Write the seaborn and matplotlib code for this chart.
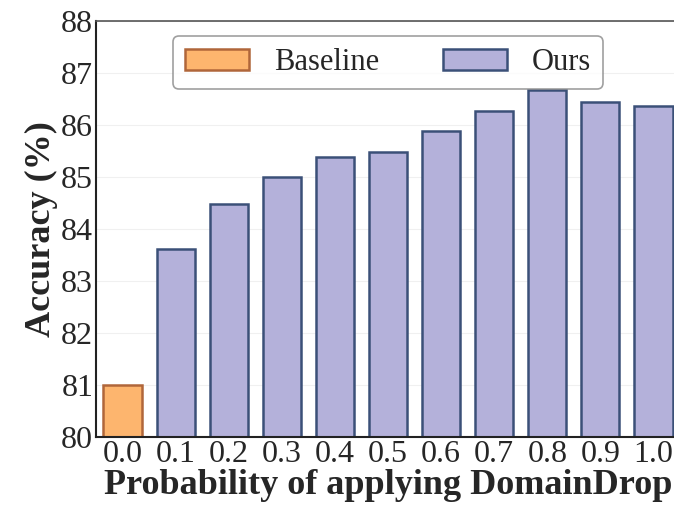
import numpy as np
import pandas as pd
import matplotlib
matplotlib.use("Agg")
import matplotlib.pyplot as plt
import seaborn as sns
from matplotlib.patches import Patch

# values
probs = ["0.0", "0.1", "0.2", "0.3", "0.4", "0.5", "0.6", "0.7", "0.8", "0.9", "1.0"]
accuracy = [81.0, 83.62, 84.48, 85.0, 85.38, 85.48, 85.88, 86.27, 86.67, 86.44, 86.37]
groups = ["Baseline"] + ["Ours"] * 10

fill_colors = {"Baseline": "#fdb56e", "Ours": "#b4b1da"}
edge_colors = {"Baseline": "#b0663a", "Ours": "#3b5078"}

sns.set_style("whitegrid")
plt.rcParams["font.family"] = ["Liberation Serif", "DejaVu Serif"]
plt.rcParams["grid.color"] = "#f0f0f0"

df = pd.DataFrame({"p": probs, "acc": accuracy, "group": groups})

fig = plt.figure(figsize=(6.74, 5.08), dpi=100)
ax = fig.add_axes([96 / 674, (508 - 437) / 508, (680 - 96) / 674, (437 - 21) / 508])

sns.barplot(data=df, x="p", y="acc", hue="group", palette=fill_colors, saturation=1,
            dodge=False, width=0.72, ax=ax, legend=False)

# bars are drawn in hue order, so match each to its group by x position
for bar in ax.patches:
    idx = int(round(bar.get_x() + bar.get_width() / 2))
    if idx < 0 or idx >= len(groups):
        continue
    bar.set_edgecolor(edge_colors[groups[idx]])
    bar.set_linewidth(1.8)

ax.set_ylim(80, 88)
ax.set_xlim(-0.5, 10.5)
ax.set_yticks(range(80, 89))
ax.set_xlabel("Probability of applying DomainDrop", fontsize=26, fontweight="bold", labelpad=0)
ax.set_ylabel("Accuracy (%)", fontsize=26, fontweight="bold", labelpad=2)
ax.tick_params(axis="both", labelsize=23, length=0, pad=2)
ax.grid(axis="x", visible=False)

for side in ["left", "bottom"]:
    ax.spines[side].set_color("#222222")
    ax.spines[side].set_linewidth(1.5)
ax.spines["top"].set_color("#555555")
ax.spines["top"].set_linewidth(1.2)
ax.spines["right"].set_visible(False)

handles = [Patch(facecolor=fill_colors[g], edgecolor=edge_colors[g], linewidth=1.8, label=g)
           for g in ["Baseline", "Ours"]]
leg = ax.legend(handles=handles, ncol=2, loc="upper left",
                bbox_to_anchor=((173 - 96) / 584, (437 - 36) / 416),
                borderaxespad=0, fontsize=22, handlelength=2.1, handleheight=0.7,
                columnspacing=2.1, handletextpad=0.8, borderpad=0.4, frameon=True, fancybox=True)
leg.get_frame().set_edgecolor("#888888")
leg.get_frame().set_linewidth(1.2)
leg.set_zorder(5)

fig.savefig("out.png", dpi=100)
